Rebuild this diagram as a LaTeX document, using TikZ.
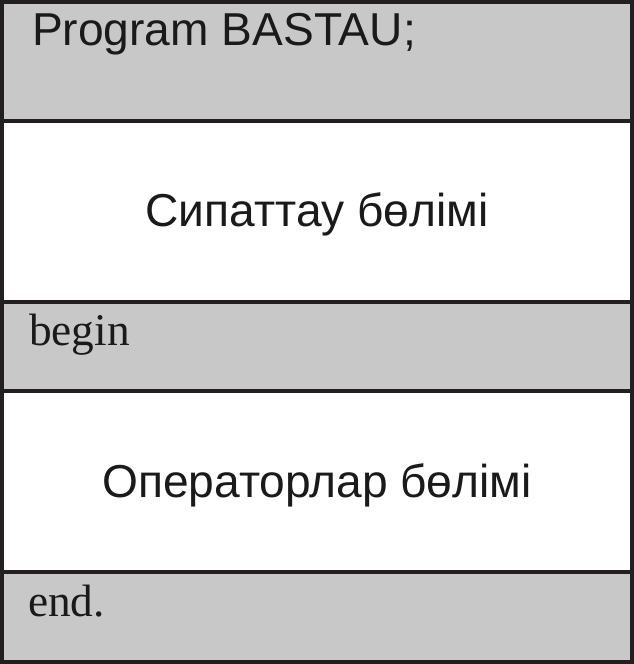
\documentclass[tikz,border=0pt]{standalone}
\usepackage{fontspec}
\setmainfont{Liberation Serif}
\newfontfamily\arialf{Liberation Sans}
\definecolor{bandgray}{HTML}{C8C8C8}
\definecolor{inkline}{HTML}{231F20}
\definecolor{inktext}{HTML}{1A1A1A}
\begin{document}
\begin{tikzpicture}[x=1bp,y=-1bp,
  sepline/.style={draw=inkline,line width=4bp},
  sanslabel/.style={inner sep=0pt,text=inktext,font=\arialf\fontsize{46.3}{55}\selectfont},
  seriflabel/.style={inner sep=0pt,text=inktext,font=\fontsize{45.5}{54}\selectfont}]
\useasboundingbox (0,0) rectangle (634,664);
% bands
\fill[bandgray] (0,0) rectangle (634,121);
\fill[white] (0,121) rectangle (634,302);
\fill[bandgray] (0,302) rectangle (634,391);
\fill[white] (0,391) rectangle (634,572);
\fill[bandgray] (0,572) rectangle (634,664);
% separators and frame
\draw[sepline] (0,121) -- (634,121);
\draw[sepline] (0,302) -- (634,302);
\draw[sepline] (0,391) -- (634,391);
\draw[sepline] (0,572) -- (634,572);
\draw[sepline] (2,2) rectangle (632,662);
% texts
\node[sanslabel,anchor=base west] (prog) at (32,46) {Program BASTAU;};
\node[sanslabel,anchor=base] (sipat) at (317,226) {Сипаттау бөлімі};
\node[seriflabel,anchor=base west] (beg) at (29,345) {begin};
\node[sanslabel,anchor=base] (oper) at (317,497) {Операторлар бөлімі};
\node[seriflabel,anchor=base west] (fin) at (28,616) {end.};
\end{tikzpicture}
\end{document}
